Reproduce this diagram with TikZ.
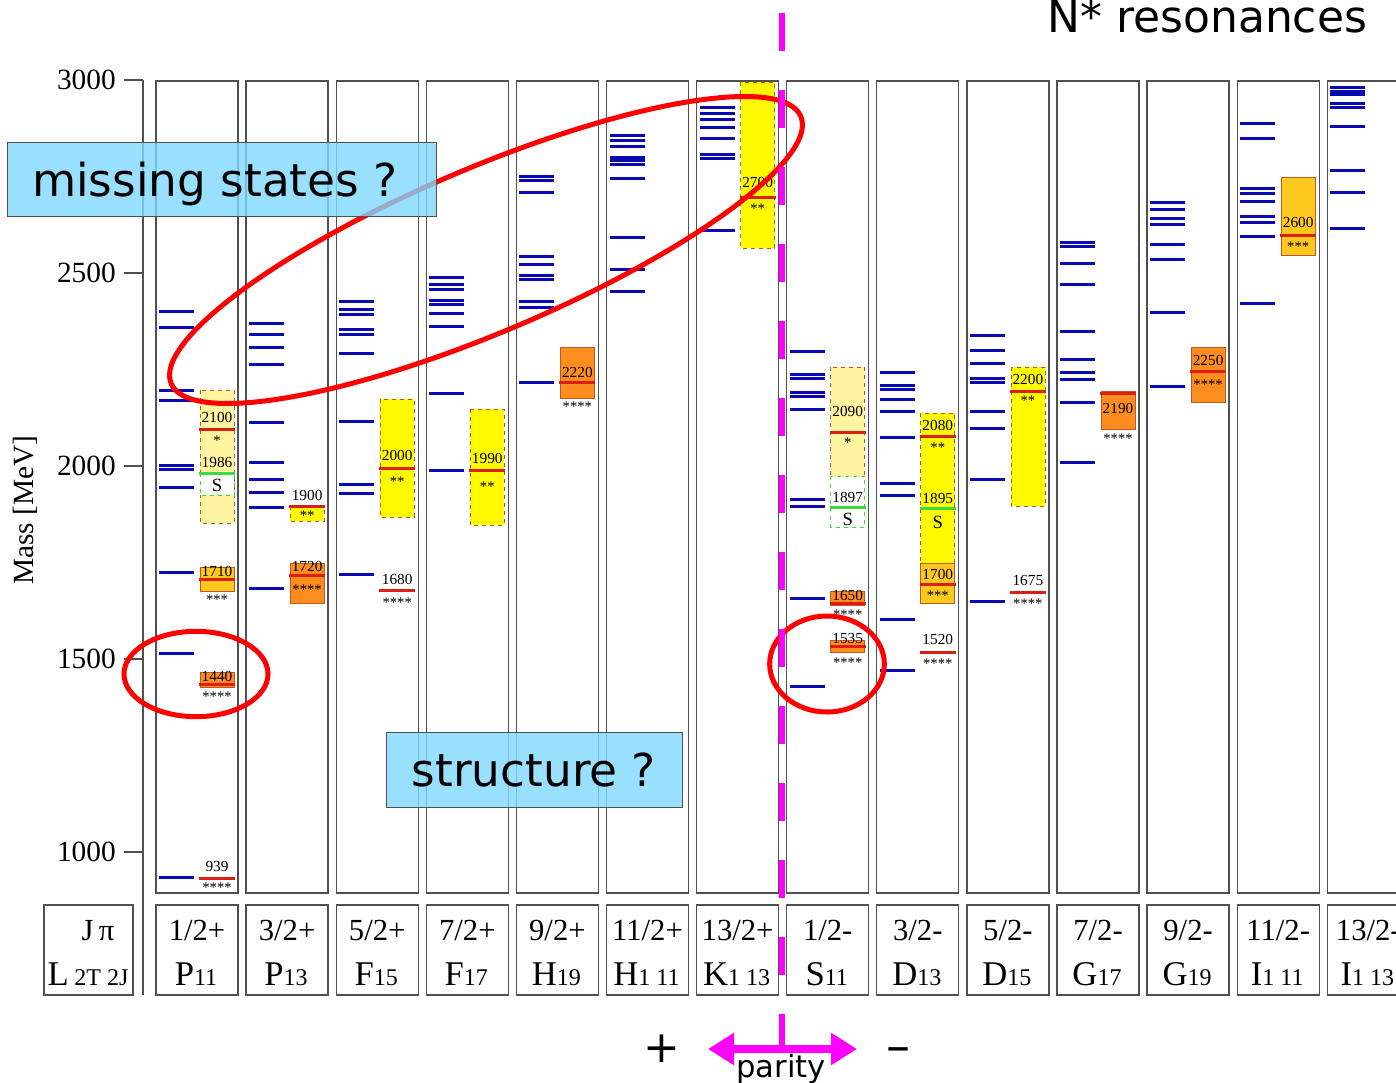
\documentclass[tikz,border=0pt]{standalone}
\usepackage{fontspec}
\setmainfont{Liberation Serif}
\newfontfamily\notefont{DejaVu Sans}
\usepackage{xcolor}
\usetikzlibrary{arrows.meta}
\usetikzlibrary{positioning}

\definecolor{predblue}{RGB}{10,10,180}
\definecolor{resred}{RGB}{220,30,20}
\definecolor{paleyellow}{RGB}{255,245,160}
\definecolor{brightyellow}{RGB}{255,250,0}
\definecolor{goldbox}{RGB}{255,200,30}
\definecolor{deeporange}{RGB}{255,140,30}
\definecolor{boxedge}{RGB}{190,90,30}
\definecolor{sgreen}{RGB}{60,220,60}
\definecolor{calloutblue}{RGB}{128,216,255}
\definecolor{paritypink}{RGB}{255,0,255}
\definecolor{framegray}{RGB}{80,80,80}

\newcommand{\wsub}[1]{{\fontsize{18}{19}\selectfont #1}}

\tikzset{
  framebox/.style={draw=framegray,line width=1pt},
  axisline/.style={draw=framegray,line width=1pt},
  pred/.style={predblue,line width=2.25pt},
  res/.style={resred,line width=2.25pt},
  sline/.style={sgreen,line width=2.25pt},
  onestar/.style={fill=paleyellow,draw=boxedge,dashed,line width=0.6pt},
  twostar/.style={fill=brightyellow,draw=boxedge,dashed,line width=0.6pt},
  threestar/.style={fill=goldbox,draw=boxedge,line width=0.6pt},
  fourstar/.style={fill=deeporange,draw=boxedge,line width=0.6pt},
  sbox/.style={fill=white,draw=sgreen,dashed,line width=0.6pt},
  masslabel/.style={font=\fontsize{11.5}{12}\selectfont,inner sep=0pt},
  starlabel/.style={font=\fontsize{11}{12}\selectfont,inner sep=0pt},
  ticklabel/.style={font=\fontsize{22}{24}\selectfont,inner sep=0pt},
  headlabel/.style={font=\fontsize{23}{26}\selectfont,inner sep=0pt,anchor=base},
  wavelabel/.style={font=\fontsize{26}{28}\selectfont,inner sep=0pt,anchor=base},
  ring/.style={draw=red,line width=3.75pt},
  callout/.style={fill=calloutblue,fill opacity=0.8,text opacity=1,draw=framegray,line width=0.6pt,
    font=\notefont\fontsize{34}{36}\selectfont,inner sep=0pt,text depth=0pt},
  paritydash/.style={draw=paritypink,line width=4.5pt,dash pattern=on 28.5pt off 29.25pt},
  parityarrow/.style={draw=paritypink,line width=6pt,
    arrows={Triangle[length=19.5pt,width=23pt]-Triangle[length=19.5pt,width=23pt]}}
}

\begin{document}
\begin{tikzpicture}[x=0.75pt,y=-0.75pt]
  \useasboundingbox (0,0) rectangle (1396,1082);

  % column frames and header boxes
  \foreach \c in {1,...,14}{
    \pgfmathsetmacro{\xl}{156+90.1*(\c-1)}
    \draw[framebox] (\xl,81) rectangle (\xl+82,893);
    \draw[framebox] (\xl,905) rectangle (\xl+82,995);
  }
  \draw[framebox] (44,905) rectangle (133,995);

  % mass axis
  \draw[axisline] (143,80) -- (143,995);
  \foreach \m/\y in {3000/80,2500/273,2000/466,1500/659,1000/852}{
    \draw[axisline] (124,\y) -- (143,\y);
    \node[ticklabel,anchor=east] (t\m) at (116,\y) {\m};
  }
  \node[font=\fontsize{22}{24}\selectfont,rotate=90] (masstitle) at (25,510) {Mass [MeV]};

  % quark model states
  \foreach \c/\ys in {1/{311,327,390,400,465,469,487,572,653,877},
                      2/{323,334,347,364,422,462,479,492,507,588},
                      3/{301,309,314,329,334,353,421,484,493,574},
                      4/{277,284,289,300,304,313,326,393,470},
                      5/{176,180,192,256,264,275,279,301,307,382},
                      6/{135,140,146,157,160,164,178,237,269,291},
                      7/{107,113,119,127,138,154,158,230},
                      8/{351,374,378,392,396,409,499,506,598,686},
                      9/{372,385,389,399,411,437,483,495,619,670},
                      10/{335,350,363,378,382,411,428,479,601},
                      11/{242,246,263,284,331,359,372,379,402,462},
                      12/{202,209,218,224,244,259,312,386},
                      13/{123,138,188,193,201,216,222,236,303},
                      14/{87,91,94,103,107,126,170,192,228}}{
    \pgfmathsetmacro{\xl}{156+90.1*(\c-1)}
    \foreach \y in \ys
      \draw[pred] (\xl+3,\y) -- (\xl+38,\y);
  }

  % measured states: error boxes
  \foreach \c/\t/\b/\kind in {1/390/523/onestar, 1/473/495/sbox, 1/567/591/threestar, 1/672/687/fourstar,
                              2/506/521/twostar, 2/563/603/fourstar, 3/399/517/twostar, 4/409/525/twostar,
                              5/347/398/fourstar, 7/82/248/twostar, 8/367/476/onestar, 8/476/527/sbox,
                              8/591/605/fourstar, 8/640/652/fourstar, 9/413/563/twostar, 9/563/603/threestar,
                              10/367/506/twostar, 11/391/429/fourstar, 12/347/402/fourstar, 13/177/255/threestar}{
    \pgfmathsetmacro{\xl}{156+90.1*(\c-1)}
    \draw[\kind] (\xl+44,\t) rectangle (\xl+78,\b);
  }

  % measured states: masses and ratings
  \foreach \c/\y/\m/\ym/\st/\ys in {1/429/2100/417/*/441, 1/579/1710/571/***/600, 1/684/1440/676/****/697,
                                    1/878/939/866/****/888, 2/506/1900/495/**/516, 2/575/1720/566/****/590,
                                    3/468/2000/455/**/482, 3/590/1680/579/****/603, 4/470/1990/458/**/487,
                                    5/382/2220/372/****/407, 7/197/2700/182/**/209, 8/432/2090/411/*/443,
                                    8/603/1650/595/****/615, 8/646/1535/638/****/663, 9/436/2080/425/**/448,
                                    9/584/1700/574/***/596, 9/652/1520/639/****/664, 10/391/2200/379/**/401,
                                    10/592/1675/580/****/604, 11/393/2190/408/****/439, 12/371/2250/360/****/385,
                                    13/235/2600/222/***/247}{
    \pgfmathsetmacro{\xl}{156+90.1*(\c-1)}
    \draw[res] (\xl+43,\y) -- (\xl+79,\y);
    \node[masslabel] (m\m) at (\xl+61,\ym) {\m};
    \node[starlabel] (st\m) at (\xl+61,\ys) {\st};
  }

  % states seen only in the S-matrix analysis
  \foreach \c/\y/\m/\ym/\ys in {1/473/1986/462/485, 8/507/1897/497/519, 9/508/1895/498/522}{
    \pgfmathsetmacro{\xl}{156+90.1*(\c-1)}
    \draw[sline] (\xl+43,\y) -- (\xl+79,\y);
    \node[masslabel] (m\m) at (\xl+61,\ym) {\m};
    \node[font=\fontsize{14}{15}\selectfont,inner sep=0pt] (sw\m) at (\xl+61,\ys) {S};
  }

  % quantum numbers
  \node[headlabel] (hjp) at (98,940) {J\,π};
  \node[wavelabel] (hlw) at (88,985) {L\,\wsub{2T 2J}};
  \foreach \c/\jp/\lw in {1/{1/2+}/{P\wsub{11}}, 2/{3/2+}/{P\wsub{13}}, 3/{5/2+}/{F\wsub{15}},
                          4/{7/2+}/{F\wsub{17}}, 5/{9/2+}/{H\wsub{19}}, 6/{11/2+}/{H\wsub{1 11}},
                          7/{13/2+}/{K\wsub{1 13}}, 8/{1/2-}/{S\wsub{11}}, 9/{3/2-}/{D\wsub{13}},
                          10/{5/2-}/{D\wsub{15}}, 11/{7/2-}/{G\wsub{17}}, 12/{9/2-}/{G\wsub{19}},
                          13/{11/2-}/{I\wsub{1 11}}, 14/{13/2-}/{I\wsub{1 13}}}{
    \pgfmathsetmacro{\xl}{156+90.1*(\c-1)}
    \node[headlabel] (hj\c) at (\xl+41,940) {\jp};
    \node[wavelabel] (hl\c) at (\xl+40,985) {\lw};
  }

  % highlighted regions
  \draw[ring,rotate around={23:(486,250)}] (486,250) ellipse [x radius=256.5pt, y radius=61.5pt];
  \draw[ring] (196,674) ellipse [x radius=54pt, y radius=32pt];
  \draw[ring] (827,664) ellipse [x radius=43pt, y radius=36pt];

  % parity
  \coordinate (ptop) at (782,13);
  \coordinate (pbot) at (782,1049);
  \coordinate (pl) at (708,1049);
  \coordinate (pr) at (857,1049);
  \draw[paritydash] (ptop) -- (pbot);
  \draw[parityarrow] (pl) -- (pr);
  \node[font=\notefont\fontsize{23}{24}\selectfont,inner sep=0pt,anchor=base] (paritytext) at (781,1077) {parity};
  \node[font=\notefont\fontsize{33}{34}\selectfont,inner sep=0pt] (plus) at (662,1049) {+};
  \node[font=\notefont\fontsize{36}{38}\selectfont,inner sep=0pt,anchor=base] (minus) at (898,1062) {–};

  % callouts
  \node[callout,minimum width=321.75pt,minimum height=55.5pt] (missing) at (221.5,179) {\hspace*{-10pt}missing states ?};
  \node[callout,minimum width=222pt,minimum height=56.25pt] (structure) at (534,769.5) {structure ?};
  \node[font=\notefont\fontsize{33}{36}\selectfont,inner sep=0pt,anchor=base west] (title) at (1047,32) {N* resonances};
\end{tikzpicture}
\end{document}
